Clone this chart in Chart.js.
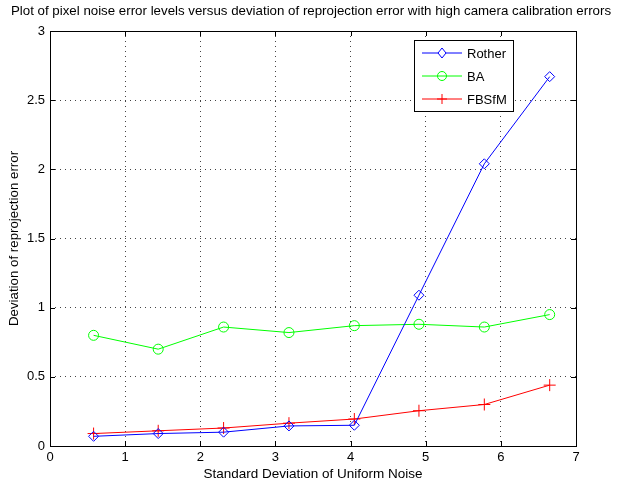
<!DOCTYPE html>
<html>
<head>
<meta charset="utf-8">
<script src="https://cdn.jsdelivr.net/npm/chart.js@4.4.1/dist/chart.umd.min.js"></script>
<style>
  html, body { margin: 0; padding: 0; background: #fff; }
  #wrap { width: 623px; height: 482px; position: relative; }
</style>
</head>
<body>
<div id="wrap"><canvas id="noiseChart"></canvas></div>
<script>
const noiseStd = [0.58, 1.44, 2.31, 3.18, 4.05, 4.91, 5.78, 6.65];
const rother = [0.07, 0.09, 0.10, 0.145, 0.15, 1.09, 2.04, 2.67];
const ba = [0.80, 0.70, 0.86, 0.82, 0.87, 0.88, 0.86, 0.95];
const fbsfm = [0.09, 0.11, 0.13, 0.165, 0.195, 0.255, 0.30, 0.44];
const seriesNames = ['Rother', 'BA', 'FBSfM'];
const chartTitle = 'Plot of pixel noise error levels versus deviation of reprojection error with high camera calibration errors';

const FONT = '"Liberation Sans", Arial, sans-serif';

function toPoints(ys) {
    return noiseStd.map((x, i) => ({ x: x, y: ys[i] }));
}

// box, inward ticks, title and legend drawn like the MATLAB figure
const matlabFrame = {
    id: 'matlabFrame',
    afterDraw(chart) {
        const ctx = chart.ctx;
        const a = chart.chartArea;
        const xs = chart.scales.x, ys = chart.scales.y;
        ctx.save();
        ctx.strokeStyle = '#000';
        ctx.lineWidth = 1;
        ctx.beginPath();
        for (let v = 0; v <= 7; v++) {
            const px = Math.round(xs.getPixelForValue(v)) + 0.5;
            ctx.moveTo(px, a.bottom); ctx.lineTo(px, a.bottom - 5);
            ctx.moveTo(px, a.top); ctx.lineTo(px, a.top + 5);
        }
        for (let v = 0; v <= 3; v += 0.5) {
            const py = Math.round(ys.getPixelForValue(v)) + 0.5;
            ctx.moveTo(a.left, py); ctx.lineTo(a.left + 5, py);
            ctx.moveTo(a.right, py); ctx.lineTo(a.right - 5, py);
        }
        ctx.stroke();
        ctx.strokeRect(Math.round(a.left) + 0.5, Math.round(a.top) + 0.5,
            Math.round(a.right - a.left), Math.round(a.bottom - a.top));

        // title
        ctx.fillStyle = '#000';
        ctx.font = '13.3px ' + FONT;
        ctx.textAlign = 'center';
        ctx.textBaseline = 'middle';
        ctx.fillText(chartTitle, 311, 11);

        // legend
        const lx = 414, ly = 40, lw = 99, lh = 71;
        ctx.fillStyle = '#fff';
        ctx.fillRect(lx, ly, lw, lh);
        ctx.strokeRect(lx + 0.5, ly + 0.5, lw, lh);
        chart.data.datasets.forEach((ds, i) => {
            const y = ly + 13 + i * 23;
            ctx.strokeStyle = ds.borderColor;
            ctx.beginPath();
            ctx.moveTo(lx + 8, y); ctx.lineTo(lx + 48, y);
            ctx.stroke();
            const mx = lx + 28;
            ctx.beginPath();
            if (ds.pointStyle === 'rectRot') {
                ctx.moveTo(mx, y - 5); ctx.lineTo(mx + 4, y); ctx.lineTo(mx, y + 5); ctx.lineTo(mx - 4, y); ctx.closePath();
                ctx.fillStyle = '#fff'; ctx.fill();
            } else if (ds.pointStyle === 'circle') {
                ctx.arc(mx, y, 4.5, 0, Math.PI * 2);
            } else {
                ctx.moveTo(mx - 5, y); ctx.lineTo(mx + 5, y);
                ctx.moveTo(mx, y - 5); ctx.lineTo(mx, y + 5);
            }
            ctx.stroke();
            ctx.fillStyle = '#000';
            ctx.font = '13px ' + FONT;
            ctx.textAlign = 'left';
            ctx.fillText(ds.label, lx + 53, y + 1);
        });
        ctx.restore();
    }
};

new Chart(document.getElementById('noiseChart').getContext('2d'), {
    type: 'line',
    data: {
        datasets: [{
            label: seriesNames[0],
            data: toPoints(rother),
            borderColor: '#0000ff',
            backgroundColor: 'rgba(0,0,0,0)',
            pointStyle: 'rectRot',
            pointRadius: 5,
            borderWidth: 1
        }, {
            label: seriesNames[1],
            data: toPoints(ba),
            borderColor: '#00ff00',
            backgroundColor: 'rgba(0,0,0,0)',
            pointStyle: 'circle',
            pointRadius: 5,
            borderWidth: 1
        }, {
            label: seriesNames[2],
            data: toPoints(fbsfm),
            borderColor: '#ff0000',
            backgroundColor: 'rgba(0,0,0,0)',
            pointStyle: 'cross',
            pointRadius: 6,
            borderWidth: 1
        }]
    },
    options: {
        responsive: true,
        maintainAspectRatio: false,
        animation: false,
        layout: { padding: { top: 31, right: 47, left: 0, bottom: 0 } },
        plugins: {
            legend: { display: false },
            tooltip: { enabled: false }
        },
        scales: {
            x: {
                type: 'linear',
                min: 0,
                max: 7,
                ticks: { stepSize: 1, color: '#000', font: { family: FONT, size: 13 }, padding: 4 },
                grid: { color: '#444', drawTicks: false, tickLength: 0 },
                border: { display: false, dash: [1, 4] },
                title: { display: true, text: 'Standard Deviation of Uniform Noise', color: '#000', font: { family: FONT, size: 13.5 }, padding: 0 },
                afterFit(scale) { scale.height = 36; }
            },
            y: {
                min: 0,
                max: 3,
                ticks: {
                    stepSize: 0.5, color: '#000', font: { family: FONT, size: 13 }, padding: 5,
                    callback: v => String(v)
                },
                grid: { color: '#444', drawTicks: false, tickLength: 0 },
                border: { display: false, dash: [1, 4] },
                title: { display: true, text: 'Deviation of reprojection error', color: '#000', font: { family: FONT, size: 13.3 }, padding: { top: 6, bottom: 0 } },
                afterFit(scale) { scale.width = 50; }
            }
        }
    },
    plugins: [matlabFrame]
});
</script>
</body>
</html>
